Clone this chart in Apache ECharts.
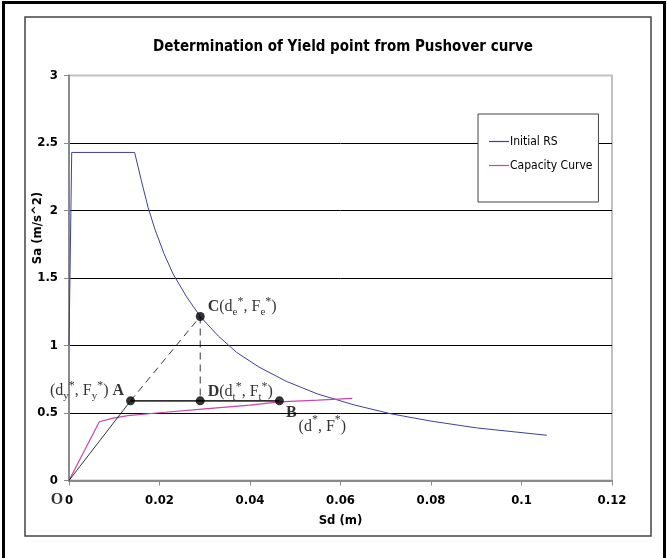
<!DOCTYPE html>
<html>
<head>
<meta charset="utf-8">
<script src="https://cdn.jsdelivr.net/npm/echarts/dist/echarts.min.js"></script>
<style>html,body{margin:0;padding:0;background:#fff;}#c{width:667px;height:558px;}</style>
</head>
<body>
<div id="c"></div>
<script>
// ---- data ----
const titleText = 'Determination of Yield point from Pushover curve';
const xName = 'Sd (m)';
const yName = 'Sa (m/s^2)';
const seriesNames = ['Initial RS', 'Capacity Curve'];

const rsSd = [0, 0.0006, 0.0145, 0.016, 0.0175, 0.019, 0.021, 0.023, 0.026, 0.029, 0.033, 0.037, 0.042, 0.048, 0.055, 0.063, 0.071, 0.080, 0.090, 0.1056];
const rsSa = [1.0, 2.43, 2.43, 2.22, 2.02, 1.86, 1.68, 1.53, 1.36, 1.215, 1.07, 0.95, 0.84, 0.735, 0.64, 0.56, 0.495, 0.44, 0.39, 0.335];

const capSd = [0, 0.0067, 0.0095, 0.013, 0.02, 0.03, 0.04, 0.0465, 0.055, 0.0626];
const capSa = [0, 0.435, 0.46, 0.48, 0.502, 0.53, 0.558, 0.583, 0.595, 0.608];

const ptNames = ['O', 'A', 'D', 'B', 'C'];
const ptSd = [0, 0.0136, 0.029, 0.0465, 0.029];
const ptSa = [0, 0.59, 0.59, 0.59, 1.215];
const ptLabels = [
  '{b|O}',
  '{n|(d}{sub|y}{sup|*}{n|, F}{sub|y}{sup|*}{n|) }{b|A}',
  '{b|D}{n|(d}{sub|t}{sup|*}{n|, F}{sub|t}{sup|*}{n|)}',
  '{bt|B}{nb|(d}{supb|*}{nb|, F}{supb|*}{nb|)}',
  '{b|C}{n|(d}{sub|e}{sup|*}{n|, F}{sub|e}{sup|*}{n|)}'
];

// ---- build ----
const P = n => { const i = ptNames.indexOf(n); return [ptSd[i], ptSa[i]]; };
const rsData = rsSd.map((x, i) => [x, rsSa[i]]);
const capData = capSd.map((x, i) => [x, capSa[i]]);

const narrow = "'Liberation Sans Narrow', 'Arial Narrow', 'DejaVu Sans Condensed', 'Liberation Sans', sans-serif";
const serif = "'Liberation Serif', 'Times New Roman', serif";

const labelLayout = {
  O: { position: 'inside', offset: [-12, 19] },
  A: { position: 'left', distance: 2, offset: [0, -10] },
  D: { position: 'right', distance: 3, offset: [0, -9] },
  B: { position: 'right', distance: 2, offset: [0, 19] },
  C: { position: 'right', distance: 3, offset: [0, -10] }
};

const rich = {
  n: { fontFamily: serif, fontSize: 16, lineHeight: 22, color: '#000' },
  b: { fontFamily: serif, fontSize: 16, fontWeight: 'bold', lineHeight: 22, color: '#000' },
  sub: { fontFamily: serif, fontSize: 11, lineHeight: 11, verticalAlign: 'bottom', color: '#000' },
  sup: { fontFamily: serif, fontSize: 12, lineHeight: 12, verticalAlign: 'top', color: '#000' },
  bt: { fontFamily: serif, fontSize: 16, fontWeight: 'bold', lineHeight: 22, verticalAlign: 'top', color: '#000', padding: [0, 2, 0, 0] },
  nb: { fontFamily: serif, fontSize: 16, lineHeight: 22, verticalAlign: 'bottom', color: '#000' },
  supb: { fontFamily: serif, fontSize: 12, lineHeight: 30, verticalAlign: 'middle', color: '#000' }
};

const ptData = ptNames.map((n, i) => ({
  name: n,
  value: [ptSd[i], ptSa[i]],
  symbolSize: n === 'O' ? 0 : 9,
  label: Object.assign({ show: true, formatter: ptLabels[i], rich: rich }, labelLayout[n])
}));

const chart = echarts.init(document.getElementById('c'), null, { renderer: 'canvas' });
chart.setOption({
  animation: false,
  backgroundColor: '#fff',
  title: {
    text: titleText,
    left: 338, textAlign: 'center', top: 35,
    textStyle: { fontFamily: narrow, fontSize: 15, fontWeight: 'bold', color: '#000' }
  },
  graphic: [
    { type: 'rect', z: -10, shape: { x: 3.5, y: 2.5, width: 661, height: 620 }, style: { fill: 'none', stroke: '#000', lineWidth: 3 } },
    { type: 'rect', z: -10, shape: { x: 25, y: 17, width: 626, height: 519 }, style: { fill: 'none', stroke: '#444', lineWidth: 1.5 } },
    { type: 'text', x: 38, y: 228, rotation: Math.PI / 2,
      style: { text: yName, fontFamily: narrow, fontSize: 13, fontWeight: 'bold', fill: '#000', align: 'center', verticalAlign: 'middle' } }
  ],
  legend: {
    data: seriesNames,
    orient: 'vertical',
    left: 478, top: 114,
    padding: [20, 6, 29, 11],
    itemGap: 9,
    icon: 'rect',
    itemWidth: 20, itemHeight: 1.2,
    backgroundColor: '#fff',
    borderColor: '#444', borderWidth: 1,
    textStyle: { fontFamily: narrow, fontSize: 12, color: '#000', lineHeight: 15, padding: [0, 0, 0, -4] }
  },
  grid: {
    left: 69, right: 55, top: 75.5, bottom: 77.5,
    show: true, borderColor: '#c0c0c0', borderWidth: 2, backgroundColor: 'transparent'
  },
  xAxis: {
    type: 'value', min: 0, max: 0.12, interval: 0.02,
    name: xName, nameLocation: 'middle', nameGap: 34,
    nameTextStyle: { fontFamily: narrow, fontSize: 13, fontWeight: 'bold', color: '#000' },
    axisLine: { show: true, onZero: false, lineStyle: { color: '#8a8a8a', width: 2 } },
    axisTick: { show: true, inside: false, length: 5, lineStyle: { color: '#8a8a8a', width: 1 } },
    axisLabel: { margin: 14, fontFamily: narrow, fontSize: 13, fontWeight: 'bold', color: '#000' },
    splitLine: { show: false }
  },
  yAxis: {
    type: 'value', min: 0, max: 3, interval: 0.5,
    axisLine: { show: true, onZero: false, lineStyle: { color: '#8a8a8a', width: 2 } },
    axisTick: { show: true, inside: false, length: 5, lineStyle: { color: '#8a8a8a', width: 1 } },
    axisLabel: { margin: 11, fontFamily: narrow, fontSize: 13, fontWeight: 'bold', color: '#000' },
    splitLine: { show: true, showMinLine: false, showMaxLine: false, lineStyle: { color: '#000', width: 1 } }
  },
  series: [
    { name: seriesNames[0], type: 'line', data: rsData, symbol: 'none', z: 3,
      lineStyle: { color: '#3f3fa0', width: 1 }, itemStyle: { color: '#3f3fa0' } },
    { name: seriesNames[1], type: 'line', data: capData, symbol: 'none', z: 3,
      lineStyle: { color: '#cc44aa', width: 1.2 }, itemStyle: { color: '#cc44aa' } },
    { name: 'OA', type: 'line', data: [P('O'), P('A')], symbol: 'none', z: 4, silent: true,
      lineStyle: { color: '#000', width: 0.8 } },
    { name: 'AC', type: 'line', data: [P('A'), P('C')], symbol: 'none', z: 4, silent: true,
      lineStyle: { color: '#000', width: 0.8, type: [7, 5] } },
    { name: 'CD', type: 'line', data: [P('C'), P('D')], symbol: 'none', z: 4, silent: true,
      lineStyle: { color: '#000', width: 0.8, type: [7, 5] } },
    { name: 'AB', type: 'line', data: [P('A'), P('B')], symbol: 'none', z: 4, silent: true,
      lineStyle: { color: '#333', width: 1.8 } },
    { name: 'points', type: 'scatter', data: ptData, z: 6, clip: false,
      itemStyle: { color: '#000' } }
  ]
});
</script>
</body>
</html>
